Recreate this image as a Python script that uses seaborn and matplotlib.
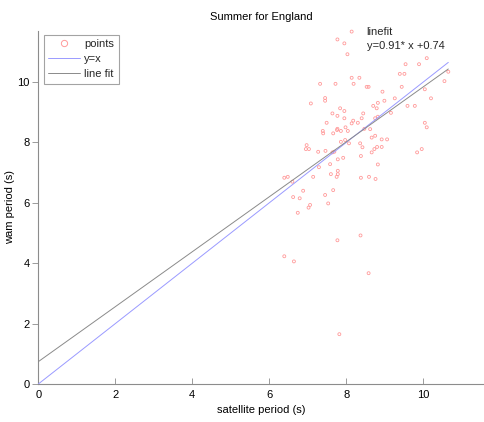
import matplotlib
matplotlib.use("Agg")
import matplotlib.pyplot as plt
import seaborn as sns
import numpy as np
import pandas as pd
from matplotlib.lines import Line2D

# Satellite vs. WAM wave periods (s), summer, England
satellite = [
    8.14, 7.77, 7.95, 8.03, 8.14, 8.34, 7.32, 7.72, 8.19, 8.53,
    8.58, 7.45, 7.45, 7.08, 7.84, 7.95, 7.64, 7.77, 8.44, 8.40,
    7.95, 8.18, 7.49, 8.14, 8.30, 7.77, 7.98, 8.47, 9.54, 9.89,
    10.09, 9.39, 9.51, 10.65, 10.55, 9.44, 10.04, 8.94, 9.26, 10.20,
    8.99, 8.82, 8.70, 8.79, 9.59, 9.78, 9.16, 8.82, 8.75, 10.04,
    10.09, 7.39, 7.40, 7.76, 7.66, 7.86, 8.04, 7.97, 7.86, 8.07,
    8.36, 8.42, 6.97, 6.95, 7.03, 7.27, 7.46, 7.64, 7.69, 7.92,
    7.78, 8.38, 7.58, 7.29, 7.78, 7.78, 7.60, 7.75, 7.14, 6.39,
    6.48, 6.60, 8.38, 8.59, 6.88, 7.66, 7.45, 6.62, 6.79, 7.06,
    7.53, 7.02, 6.74, 8.62, 8.75, 8.66, 8.92, 9.06, 8.80, 8.92,
    8.73, 8.66, 8.82, 8.76, 9.96, 9.84, 8.37, 7.77, 6.39, 6.64,
    8.58, 7.82,
]
wam = [
    11.67, 11.41, 11.28, 10.92, 10.14, 10.14, 9.94, 9.94, 9.94, 9.84,
    9.84, 9.47, 9.38, 9.29, 9.13, 9.04, 8.96, 8.88, 8.96, 8.80,
    8.80, 8.72, 8.65, 8.63, 8.65, 8.45, 8.50, 8.45, 10.59, 10.59,
    10.79, 10.27, 10.27, 10.34, 10.03, 9.84, 9.76, 9.68, 9.46, 9.46,
    9.38, 9.31, 9.21, 9.13, 9.21, 9.21, 8.98, 8.85, 8.80, 8.65,
    8.50, 8.38, 8.30, 8.41, 8.30, 8.38, 8.38, 8.08, 8.02, 7.97,
    7.97, 7.84, 7.91, 7.78, 7.78, 7.69, 7.72, 7.67, 7.69, 7.49,
    7.44, 7.55, 7.28, 7.18, 7.06, 6.95, 6.95, 6.86, 6.86, 6.83,
    6.86, 6.70, 6.83, 6.86, 6.40, 6.42, 6.26, 6.19, 6.15, 5.93,
    5.98, 5.84, 5.67, 8.44, 8.22, 8.16, 8.10, 8.10, 7.85, 7.85,
    7.78, 7.67, 7.27, 6.79, 7.78, 7.67, 4.92, 4.76, 4.23, 4.06,
    3.67, 1.65,
]

# Least-squares line as reported on the chart
fit_slope = 0.91
fit_intercept = 0.74

title = "Summer for England"
x_label = "satellite period (s)"
y_label = "wam period (s)"
x_ticks = [0, 2, 4, 6, 8, 10]
y_ticks = [0, 2, 4, 6, 8, 10]

sns.set_theme(style="white")
plt.rcParams["font.family"] = ["Liberation Sans", "DejaVu Sans"]
plt.rcParams["font.size"] = 8

point_color = "#ff9a9a"
identity_color = "#9a9aff"
fit_color = "#8a8a8a"
axis_color = "#8c8c8c"

points = pd.DataFrame({"satellite": satellite, "wam": wam})
x_end = max(satellite)
lines = pd.DataFrame({
    "x": [0.0, x_end, 0.0, x_end],
    "y": [0.0, x_end, fit_intercept, fit_slope * x_end + fit_intercept],
    "kind": ["y=x", "y=x", "line fit", "line fit"],
})

fig = plt.figure(figsize=(4.84, 4.22), dpi=100)
ax = fig.add_axes([0.0791, 0.0900, 0.9227, 0.8373])

sns.scatterplot(data=points, x="satellite", y="wam", ax=ax, marker="o",
                s=4.5, facecolor="none", edgecolor=point_color, linewidth=0.6,
                legend=False, zorder=2, clip_on=False)
sns.lineplot(data=lines, x="x", y="y", hue="kind",
             palette={"y=x": identity_color, "line fit": fit_color},
             ax=ax, linewidth=0.7, legend=False, zorder=3)

ax.set_xlim(0, 11.6)
ax.set_ylim(0, 11.7)
ax.set_xticks(x_ticks)
ax.set_yticks(y_ticks)
ax.set_xlabel(x_label, fontsize=8, color="black", labelpad=4)
ax.set_ylabel(y_label, fontsize=8, color="black")
ax.yaxis.set_label_coords(-0.052, 0.5)
ax.set_title(title, fontsize=8, color="black", pad=8)

for side in ("top", "right"):
    ax.spines[side].set_visible(False)
for side in ("left", "bottom"):
    ax.spines[side].set_color(axis_color)
    ax.spines[side].set_linewidth(0.8)
ax.tick_params(axis="x", direction="in", length=4, width=0.6,
               color=axis_color, labelsize=8, labelcolor="black", pad=4,
               bottom=True)
ax.tick_params(axis="y", direction="out", length=4, width=0.6,
               color=axis_color, labelsize=8, labelcolor="black", pad=2,
               left=True)

ax.text(8.53, 11.43, f"linefit\ny={fit_slope:.2f}* x +{fit_intercept:.2f}",
        fontsize=8, ha="left", va="center", linespacing=1.45)

handles = [
    Line2D([], [], linestyle="none", marker="o", markersize=4.5,
           markerfacecolor="none", markeredgecolor=point_color,
           markeredgewidth=0.7),
    Line2D([], [], color=identity_color, linewidth=0.7),
    Line2D([], [], color=fit_color, linewidth=0.7),
]
leg = ax.legend(handles, ["points", "y=x", "line fit"], loc="upper left",
                bbox_to_anchor=(0.012, 0.988), fontsize=8, frameon=True,
                fancybox=False, borderpad=0.4, handlelength=2.9,
                handletextpad=0.35, labelspacing=0.45, borderaxespad=0)
leg.get_frame().set_edgecolor(axis_color)
leg.get_frame().set_linewidth(0.8)

fig.savefig("out.png", dpi=100)
